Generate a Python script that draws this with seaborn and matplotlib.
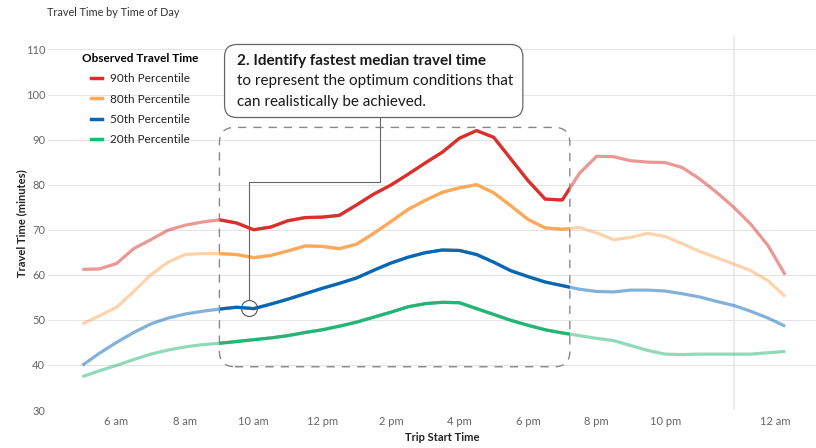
"""
Travel time by time of day: four percentile lines, with the 9 am - 7 pm
window highlighted and the fastest median travel time called out.
"""

import numpy as np
import pandas as pd
import matplotlib
import matplotlib.pyplot as plt
import seaborn as sns
from matplotlib.lines import Line2D
from matplotlib.patches import Rectangle, FancyBboxPatch

# Data (hour of day, 25 = 1 am)
hours = np.arange(5, 25.6, 0.5)
p90 = [61.2, 61.3, 62.5, 65.8, 67.8, 69.9, 71.0, 71.7, 72.2, 71.5,
       70.0, 70.6, 72.0, 72.7, 72.8, 73.2, 75.5, 77.9, 79.9, 82.3,
       84.8, 87.2, 90.3, 92.0, 90.5, 85.7, 80.9, 76.8, 76.6, 82.5,
       86.3, 86.2, 85.3, 85.0, 84.9, 83.8, 81.3, 78.3, 75.0, 71.2,
       66.5, 60.0]
p80 = [49.1, 50.9, 52.8, 56.3, 60.0, 62.8, 64.5, 64.7, 64.7, 64.5,
       63.8, 64.3, 65.3, 66.4, 66.3, 65.8, 66.8, 69.2, 71.8, 74.5,
       76.5, 78.3, 79.3, 80.0, 78.2, 75.3, 72.3, 70.4, 70.1, 70.5,
       69.3, 67.8, 68.3, 69.2, 68.5, 66.9, 65.2, 63.8, 62.4, 60.9,
       58.7, 55.2]
p50 = [39.9, 42.6, 45.0, 47.2, 49.1, 50.4, 51.3, 51.9, 52.4, 52.8,
       52.5, 53.5, 54.6, 55.8, 57.0, 58.1, 59.3, 61.0, 62.6, 63.9,
       64.9, 65.5, 65.4, 64.5, 62.8, 60.9, 59.6, 58.4, 57.6, 56.8,
       56.3, 56.2, 56.6, 56.6, 56.4, 55.8, 55.1, 54.1, 53.2, 51.9,
       50.4, 48.6]
p20 = [37.4, 38.7, 39.9, 41.2, 42.4, 43.3, 44.0, 44.5, 44.8, 45.2,
       45.6, 46.0, 46.5, 47.2, 47.8, 48.6, 49.5, 50.6, 51.7, 52.9,
       53.6, 53.9, 53.8, 52.5, 51.2, 49.9, 48.8, 47.8, 47.1, 46.5,
       45.9, 45.4, 44.3, 43.2, 42.4, 42.3, 42.4, 42.4, 42.4, 42.4,
       42.7, 43.0]

series_names = ['90th Percentile', '80th Percentile', '50th Percentile', '20th Percentile']
series_colors = ['#d9302b', '#fea95a', '#0767b5', '#23b574']

tick_hours = [6, 8, 10, 12, 14, 16, 18, 20, 22, 25.2]
tick_labels = ['6 am', '8 am', '10 am', '12 pm', '2 pm', '4 pm', '6 pm', '8 pm', '10 pm', '12 am']
grid_hours = np.arange(6, 25, 2)

highlight_start, highlight_end = 9.0, 19.22
fastest_hour = 9.85

df = pd.concat([
    pd.DataFrame({'hour': hours, 'minutes': vals, 'series': name})
    for name, vals in zip(series_names, [p90, p80, p50, p20])
])
palette = dict(zip(series_names, series_colors))

plt.rcParams['font.family'] = ['Lato', 'DejaVu Sans']

fig = plt.figure(figsize=(8.16, 4.48), dpi=100)
ax = fig.add_axes([0.0588, 0.0848, 0.9412, 0.835])
xlim, ylim = (4, 26.4), (30, 113)
ax.set_xlim(*xlim)
ax.set_ylim(*ylim)

# faded full lines, then full colour inside the highlight window
sns.lineplot(data=df, x='hour', y='minutes', hue='series', palette=palette,
             linewidth=2.3, alpha=0.5, legend=False, errorbar=None, ax=ax)
n_before = len(ax.lines)
sns.lineplot(data=df, x='hour', y='minutes', hue='series', palette=palette,
             linewidth=2.3, legend=False, errorbar=None, ax=ax)
clip = Rectangle((highlight_start, 0), highlight_end - highlight_start, 200,
                 transform=ax.transData)
for ln in ax.lines[n_before:]:
    ln.set_clip_path(clip)
for ln in ax.lines:
    ln.set_solid_capstyle('butt')

# axes styling
for s in ax.spines.values():
    s.set_visible(False)
ax.set_yticks(range(30, 111, 10))
ax.set_xticks(tick_hours)
ax.set_xticklabels(tick_labels)
ax.set_xticks(grid_hours, minor=True)
ax.tick_params(which='both', length=0, labelsize=8, labelcolor='#666666')
ax.tick_params(axis='x', pad=4)
ax.tick_params(axis='y', pad=2)
ax.grid(False)
ax.grid(which='major', axis='y', color='#e4e4e4', linewidth=0.72)
ax.grid(which='minor', axis='x', color='#ececec', linewidth=1.44)
ax.set_axisbelow(True)

ax.set_xlabel('Trip Start Time', fontweight='bold', fontsize=8, color='#222222')
ax.set_ylabel('Travel Time (minutes)', fontweight='bold', fontsize=8, color='#222222')
ax.xaxis.set_label_coords(0.513, -0.058)
ax.yaxis.set_label_coords(-0.027, 0.5)

fig.text(47 / 816, 1 - 12 / 448, 'Travel Time by Time of Day', fontsize=7.8,
         color='#333333', va='center')

# legend
handles = [Line2D([], [], color=c, linewidth=2.5) for c in series_colors]
leg = ax.legend(handles, series_names, title='Observed Travel Time', loc='upper left',
                bbox_to_anchor=(0.038, 0.968), frameon=False, fontsize=8.5,
                title_fontproperties={'weight': 'bold', 'size': 8.5},
                handlelength=1.0, handletextpad=0.6, labelspacing=0.78, borderaxespad=0)
leg._legend_box.sep = 7
for t in leg.get_texts():
    t.set_color('#222222')

# rounded boxes need the pixel aspect of the data units
bbox = ax.get_position()
px_x = bbox.width * fig.get_figwidth() * fig.dpi / (xlim[1] - xlim[0])
px_y = bbox.height * fig.get_figheight() * fig.dpi / (ylim[1] - ylim[0])
aspect = px_x / px_y

window = FancyBboxPatch((highlight_start, 39.6), highlight_end - highlight_start, 92.7 - 39.6,
                        boxstyle='round,pad=0,rounding_size=0.45', mutation_aspect=aspect,
                        fill=False, edgecolor='#888888', linewidth=1, linestyle=(0, (6, 5)),
                        zorder=3)
ax.add_patch(window)

# callout
fastest_val = np.interp(fastest_hour, hours, p50)
circle_r = 8 / px_y
ax.plot([13.68, 13.68, fastest_hour, fastest_hour],
        [94.9, 80.7, 80.7, fastest_val + circle_r], color='#666666', linewidth=0.8, zorder=4)
ax.plot([fastest_hour], [fastest_val], marker='o', markersize=11.5, markerfacecolor='none',
        markeredgecolor='#555555', markeredgewidth=0.8, zorder=5)

note = FancyBboxPatch((9.15, 94.9), 17.85 - 9.15, 111.1 - 94.9,
                      boxstyle='round,pad=0,rounding_size=0.36', mutation_aspect=aspect,
                      facecolor='white', edgecolor='#666666', linewidth=0.9, zorder=6,
                      clip_on=False)
ax.add_patch(note)
ax.text(9.5, 107.5, '2. Identify fastest median travel time', fontsize=11,
        fontweight='bold', color='#1a1a1a', va='center', zorder=7)
ax.text(9.5, 103.0, 'to represent the optimum conditions that', fontsize=11,
        color='#1a1a1a', va='center', zorder=7)
ax.text(9.5, 98.4, 'can realistically be achieved.', fontsize=11,
        color='#1a1a1a', va='center', zorder=7)

plt.savefig('out.png', dpi=100)
